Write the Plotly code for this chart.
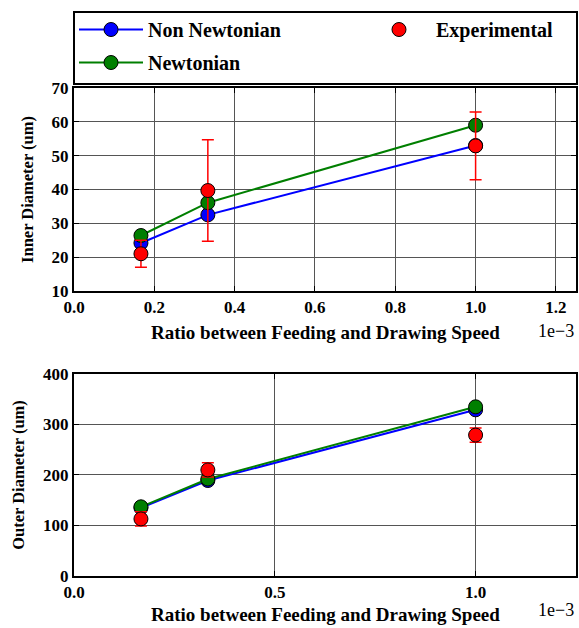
import plotly.graph_objects as go

# data (x in units of 1e-3)
ratio = [0.1667, 0.3333, 1.0]
inner_non_newtonian = [24.2, 32.5, 53.0]
inner_newtonian = [26.4, 36.1, 59.0]
inner_experimental = [21.0, 39.7, 52.9]
inner_exp_err = [4.0, 15.0, 10.0]

outer_non_newtonian = [135, 189, 329]
outer_newtonian = [137, 192, 335]
outer_experimental = [113, 210, 279]
outer_exp_err = [14, 14, 14]

x_title = "Ratio between Feeding and Drawing Speed"
offset_label = "1e\u22123"

FONT = "Liberation Serif"
BLUE, GREEN, RED = "#0000ff", "#007f00", "#ff0000"

fig = go.Figure()

def add(x, y, color, name, xa, ya, show, legend, err=None, lines=True):
    fig.add_trace(go.Scatter(
        x=x, y=y, name=name, xaxis=xa, yaxis=ya,
        mode="lines+markers" if lines else "markers",
        line=dict(color=color, width=2),
        marker=dict(size=14, color=color, line=dict(color="black", width=1)),
        error_y=dict(type="data", array=err, color=color, thickness=1.5, width=6) if err else None,
        showlegend=show, legend=legend, legendgroup=name,
    ))

add(ratio, inner_non_newtonian, BLUE, "Non Newtonian", "x", "y", True, "legend")
add(ratio, inner_newtonian, GREEN, "Newtonian", "x", "y", True, "legend")
add(ratio, inner_experimental, RED, "Experimental", "x", "y", True, "legend2", inner_exp_err, lines=False)
add(ratio, outer_non_newtonian, BLUE, "Non Newtonian", "x2", "y2", False, "legend")
add(ratio, outer_newtonian, GREEN, "Newtonian", "x2", "y2", False, "legend")
add(ratio, outer_experimental, RED, "Experimental", "x2", "y2", False, "legend2", outer_exp_err, lines=False)

tickfont = dict(family=FONT, size=17, color="black", weight="bold")
xtitlefont = dict(family=FONT, size=19, color="black", weight="bold")
ytitlefont = dict(family=FONT, size=16.5, color="black", weight="bold")
legfont = dict(family=FONT, size=20, color="black", weight="bold")
offfont = dict(family=FONT, size=18, color="black")

def xax(anchor, dtick):
    return dict(range=[0, 1.25], dtick=dtick, tickformat=".1f", anchor=anchor,
                showline=True, linecolor="black", linewidth=2, mirror="allticks",
                ticks="inside", ticklen=5, tickcolor="black", automargin=False,
                showgrid=True, gridcolor="#555555", gridwidth=1, zeroline=False,
                tickfont=tickfont)

def yax(anchor, domain, rng, dtick, title):
    return dict(range=rng, dtick=dtick, domain=domain, anchor=anchor,
                showline=True, linecolor="black", linewidth=2, mirror="allticks",
                ticks="inside", ticklen=5, tickcolor="black", automargin=False,
                showgrid=True, gridcolor="#555555", gridwidth=1, zeroline=False,
                tickfont=tickfont,
                title=dict(text=title, font=ytitlefont, standoff=14))

def text(t, x, y, font, xanchor="center"):
    return dict(text=t, xref="paper", yref="paper", x=x, y=y, xanchor=xanchor,
                yanchor="middle", showarrow=False, font=font)

fig.update_layout(
    width=579, height=628,
    margin=dict(l=74, r=3, t=88, b=52, autoexpand=False),
    paper_bgcolor="white", plot_bgcolor="white",
    font=dict(family=FONT, color="black"),
    xaxis=xax("y", 0.2),
    yaxis=yax("x", [0.584, 1.0], [10, 70], 10, "Inner Diameter (um)"),
    xaxis2=xax("y2", 0.5),
    yaxis2=yax("x2", [0.0, 0.414], [0, 400], 100, "Outer Diameter (um)"),
    legend=dict(orientation="v", x=0.0, y=1.1598, xanchor="left", yanchor="top",
                borderwidth=0, bgcolor="rgba(0,0,0,0)", font=legfont, itemwidth=64,
                traceorder="grouped", tracegroupgap=4),
    legend2=dict(orientation="v", x=0.5737, y=1.1598, xanchor="left", yanchor="top",
                 borderwidth=0, bgcolor="rgba(0,0,0,0)", font=legfont, itemwidth=64),
    showlegend=True,
    shapes=[dict(type="rect", xref="paper", yref="paper", x0=0.0, x1=1.002,
                 y0=1.0082, y1=1.1557, line=dict(color="black", width=2),
                 fillcolor="rgba(0,0,0,0)", layer="below")],
    annotations=[
        text(x_title, 0.5, 0.498, xtitlefont),
        text(x_title, 0.5, -0.0779, xtitlefont),
        text(offset_label, 1.0, 0.502, offfont, "right"),
        text(offset_label, 1.0, -0.0697, offfont, "right"),
    ],
)

fig.write_html(
    "out.html",
    config={"displayModeBar": False},
    post_script="document.body.style.margin='0';"
                "document.documentElement.style.overflow='hidden';"
                "document.body.style.overflow='hidden';",
)
